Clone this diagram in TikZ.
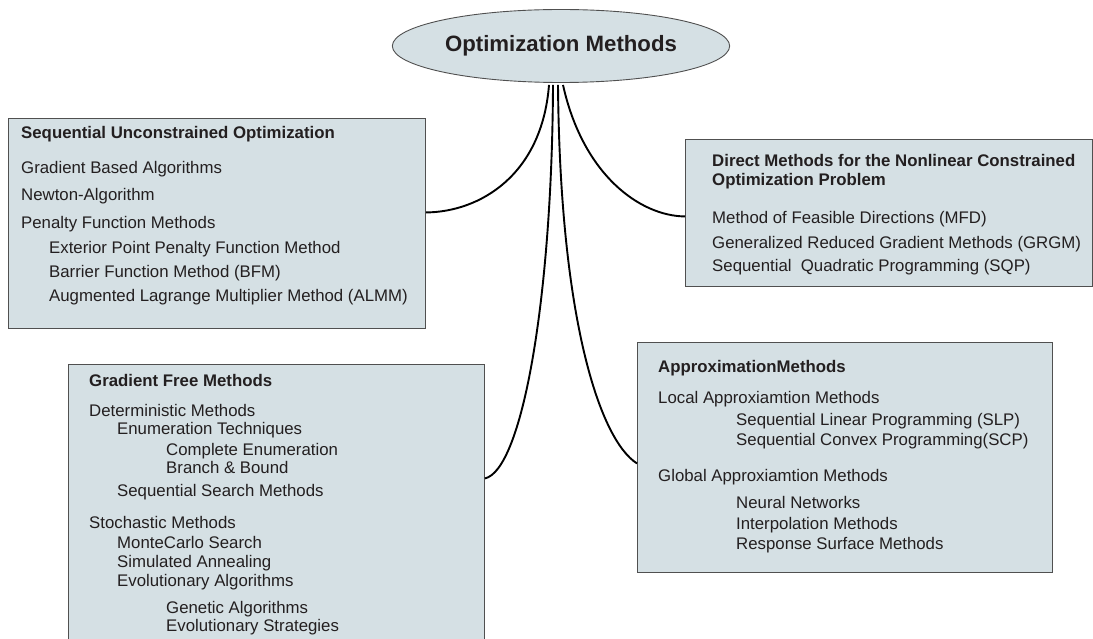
\documentclass[tikz,border=0pt]{standalone}
\usepackage{fontspec}
\setmainfont{Liberation Sans}
\usepackage{tikz}
\usetikzlibrary{shapes.geometric}
\definecolor{boxfill}{RGB}{213,224,228}
\definecolor{boxline}{RGB}{80,80,80}
\definecolor{inkc}{RGB}{35,31,32}
\newcommand{\ind}{\hspace*{28pt}}
\newcommand{\indd}{\hspace*{77pt}}

\begin{document}
\begin{tikzpicture}[x=1pt,y=-1pt]
\tikzset{box/.style=
	{draw=boxline,fill=boxfill,line width=0.9pt,anchor=north west,inner sep=0pt},
	boxtext/.style=
	{anchor=north west,inner sep=0pt,align=left,text=inkc,font=\fontsize{16.8}{18}\selectfont},
	link/.style=
	{line width=1.9pt,draw=black}}
\useasboundingbox (0,0) rectangle (1093,639);
% title
\node[ellipse,draw=boxline,fill=boxfill,line width=0.9pt,minimum width=294pt,minimum height=73pt,
	text=inkc,font=\bfseries\fontsize{22.2}{24}\selectfont] (opt) at (561,46) {Optimization Methods};
% boxes
\node[box,minimum width=417pt,minimum height=210pt] (suo) at (8,118) {};
\node[box,minimum width=407pt,minimum height=147pt] (dir) at (685,139) {};
\node[box,minimum width=416pt,minimum height=300pt] (gfm) at (68,364) {};
\node[box,minimum width=415pt,minimum height=230pt] (apx) at (637,342) {};
% texts
\node[boxtext] (suotxt) at (21,126) {\textbf{Sequential Unconstrained Optimization}\\[17pt]
	Gradient Based Algorithms\\[9pt]
	Newton-Algorithm\\[10pt]
	Penalty Function Methods\\[7pt]
	\ind Exterior Point Penalty Function Method\\[6pt]
	\ind Barrier Function Method (BFM)\\[6pt]
	\ind Augmented Lagrange Multiplier Method (ALMM)};
\node[boxtext] (dirtxt) at (712,154) {\textbf{Direct Methods for the Nonlinear Constrained}\\[1pt]
	\textbf{Optimization Problem}\\[20pt]
	Method of Feasible Directions (MFD)\\[7pt]
	Generalized Reduced Gradient Methods (GRGM)\\[5pt]
	Sequential~ Quadratic Programming (SQP)};
\node[boxtext] (gfmtxt) at (89,374) {\textbf{Gradient Free Methods}\\[12pt]
	Deterministic Methods\\
	\ind Enumeration Techniques\\[3pt]
	\indd Complete Enumeration\\
	\indd Branch \& Bound\\[5pt]
	\ind Sequential Search Methods\\[14pt]
	Stochastic Methods\\[2pt]
	\ind MonteCarlo Search\\[1pt]
	\ind Simulated Annealing\\[1pt]
	\ind Evolutionary Algorithms\\[9pt]
	\indd Genetic Algorithms\\
	\indd Evolutionary Strategies};
\node[boxtext] (apxtxt) at (658,360) {\textbf{ApproximationMethods}\\[13pt]
	Local Approxiamtion Methods\\[4pt]
	\hspace*{78pt}Sequential Linear Programming (SLP)\\[2pt]
	\hspace*{78pt}Sequential Convex Programming(SCP)\\[18pt]
	Global Approxiamtion Methods\\[9pt]
	\hspace*{78pt}Neural Networks\\[3pt]
	\hspace*{78pt}Interpolation Methods\\[2pt]
	\hspace*{78pt}Response Surface Methods};
% connectors
\draw[link] ([xshift=-12pt,yshift=-2pt]opt.south) .. controls (542,175) and (480,212) .. ([yshift=11pt]suo.east);
\draw[link] ([xshift=2pt,yshift=-2pt]opt.south) .. controls (583,175) and (640,216) .. ([yshift=-3.5pt]dir.west);
\draw[link] ([xshift=-8pt,yshift=-2pt]opt.south) .. controls (552,300) and (522,470) .. ([yshift=36pt]gfm.east);
\draw[link] ([xshift=-3pt,yshift=-2pt]opt.south) .. controls (560,320) and (600,440) .. ([yshift=-6pt]apx.west);
\end{tikzpicture}
\end{document}
